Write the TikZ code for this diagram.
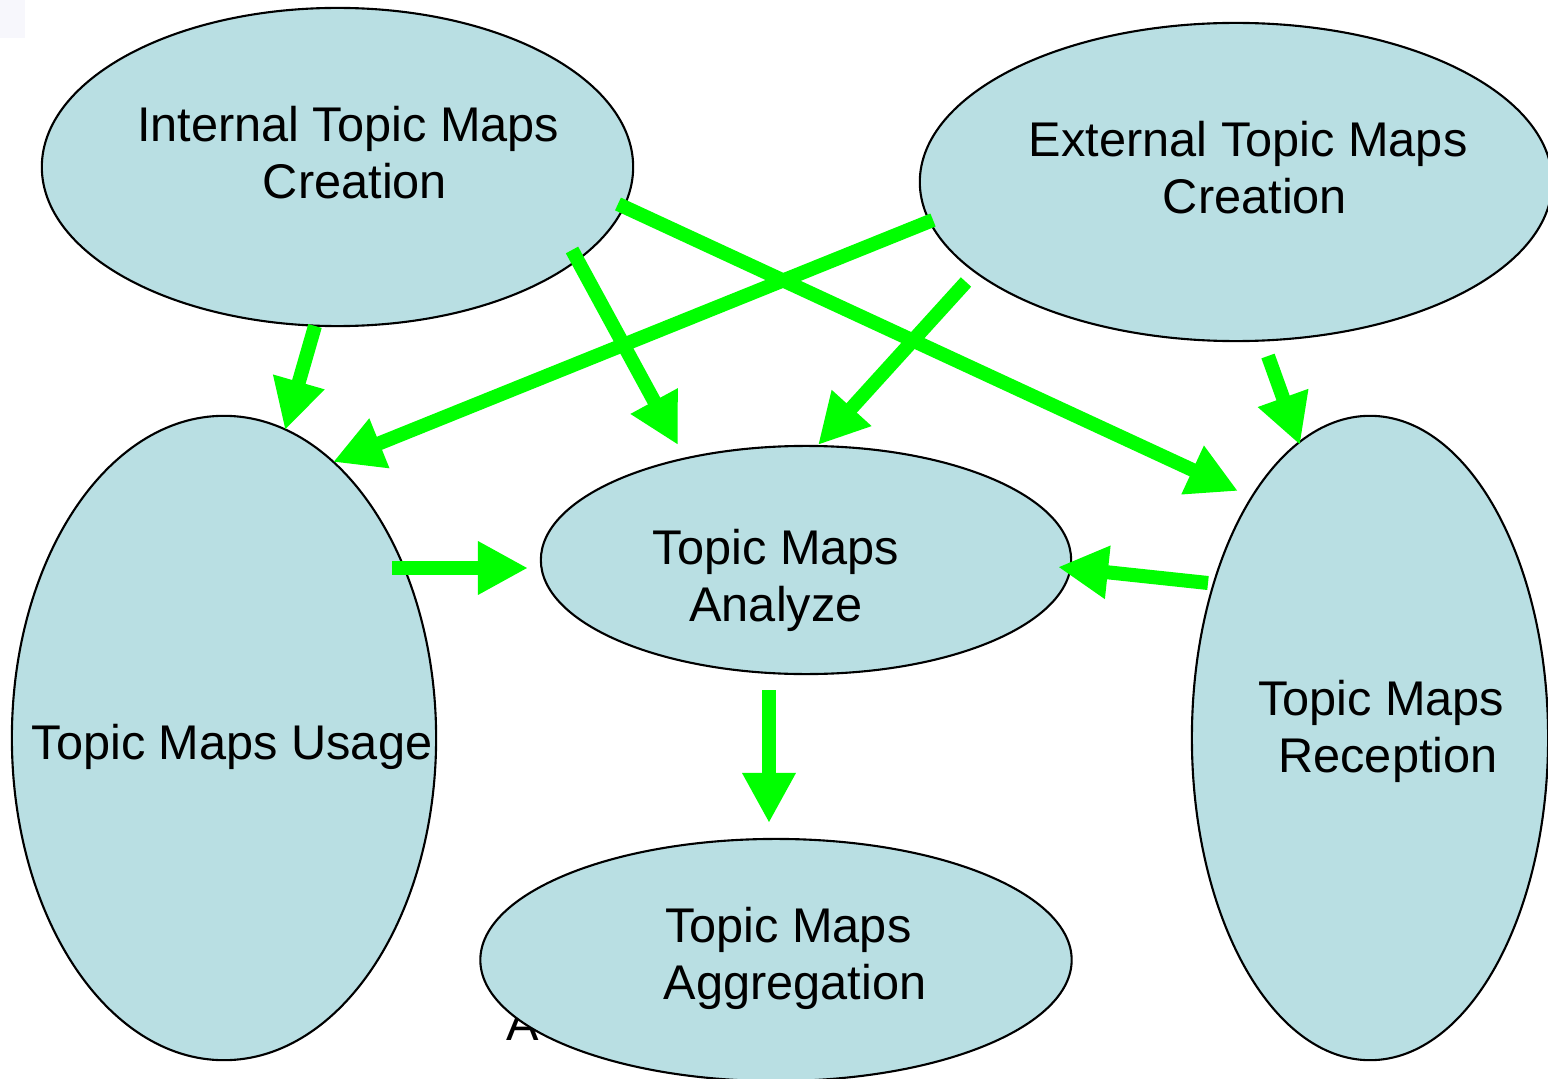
\documentclass[tikz,border=0pt]{standalone}
\usepackage{fontspec}
\setmainfont{Liberation Sans}
\usetikzlibrary{shapes.geometric,arrows.meta}
\definecolor{bubble}{RGB}{185,223,227}
\definecolor{flowgreen}{RGB}{0,255,0}
\definecolor{corner}{RGB}{247,247,252}
\tikzset{
  bubble/.style={ellipse, draw=black, line width=0.6pt, fill=bubble, inner sep=0pt},
  caption/.style={align=center, font=\fontsize{13.85}{16.2}\selectfont, inner sep=0pt},
  flow/.style={draw=flowgreen, line width=0.14cm, -{Triangle[length=0.5cm,width=0.5cm]}}
}
% first lines keep a trailing word space
\newcommand{\tsp}{\hspace*{0.278em}}
\begin{document}
\begin{tikzpicture}[x=0.01cm,y=-0.01cm]
\useasboundingbox (0,0) rectangle (1548,1079);
\clip (0,0) rectangle (1548,1079);
\fill[white] (0,0) rectangle (1548,1079);
\fill[corner] (0,0) rectangle (25,38);

% partly hidden letter behind the aggregation bubble
\node[caption, anchor=base] (stray) at (523,1040) {A};

% bubbles
\node[bubble, minimum width=5.91cm, minimum height=3.18cm] (int) at (337.5,167) {};
\node[bubble, minimum width=6.32cm, minimum height=3.18cm] (ext) at (1236,182) {};
\node[bubble, minimum width=4.24cm, minimum height=6.44cm] (use) at (224,738) {};
\node[bubble, minimum width=5.30cm, minimum height=2.28cm] (ana) at (806,560) {};
\node[bubble, minimum width=3.56cm, minimum height=6.44cm] (rec) at (1370,738) {};
\node[bubble, minimum width=5.91cm, minimum height=2.42cm] (agg) at (776,960) {};

% captions
\node[caption] (intT) at (355,153) {Internal Topic Maps\tsp\\Creation};
\node[caption] (extT) at (1255,168) {External Topic Maps\tsp\\Creation};
\node[caption] (anaT) at (776,580) {Topic Maps\\Analyze};
\node[caption] (useT) at (232,747) {Topic Maps Usage};
\node[caption] (recT) at (1388,731) {Topic Maps\tsp\\Reception};
\node[caption] (aggT) at (795,958) {Topic Maps\tsp\\Aggregation};

% connector ends
\coordinate (a1s) at (315,326);  \coordinate (a1e) at (285,430);
\coordinate (a2s) at (572,250);  \coordinate (a2e) at (678,445);
\coordinate (a3s) at (618,204);  \coordinate (a3e) at (1238,491);
\coordinate (a4s) at (933,220);  \coordinate (a4e) at (333,462);
\coordinate (a5s) at (966,282);  \coordinate (a5e) at (818,445);
\coordinate (a6s) at (1268,356); \coordinate (a6e) at (1300,445);
\coordinate (a7s) at (392,568);  \coordinate (a7e) at (528,568);
\coordinate (a8s) at (1208,583); \coordinate (a8e) at (1058,567);
\coordinate (a9s) at (769,690);  \coordinate (a9e) at (769,823);

% flows
\draw[flow] (a1s) -- (a1e);
\draw[flow] (a2s) -- (a2e);
\draw[flow] (a3s) -- (a3e);
\draw[flow] (a4s) -- (a4e);
\draw[flow] (a5s) -- (a5e);
\draw[flow] (a6s) -- (a6e);
\draw[flow] (a7s) -- (a7e);
\draw[flow] (a8s) -- (a8e);
\draw[flow] (a9s) -- (a9e);
\end{tikzpicture}
\end{document}
